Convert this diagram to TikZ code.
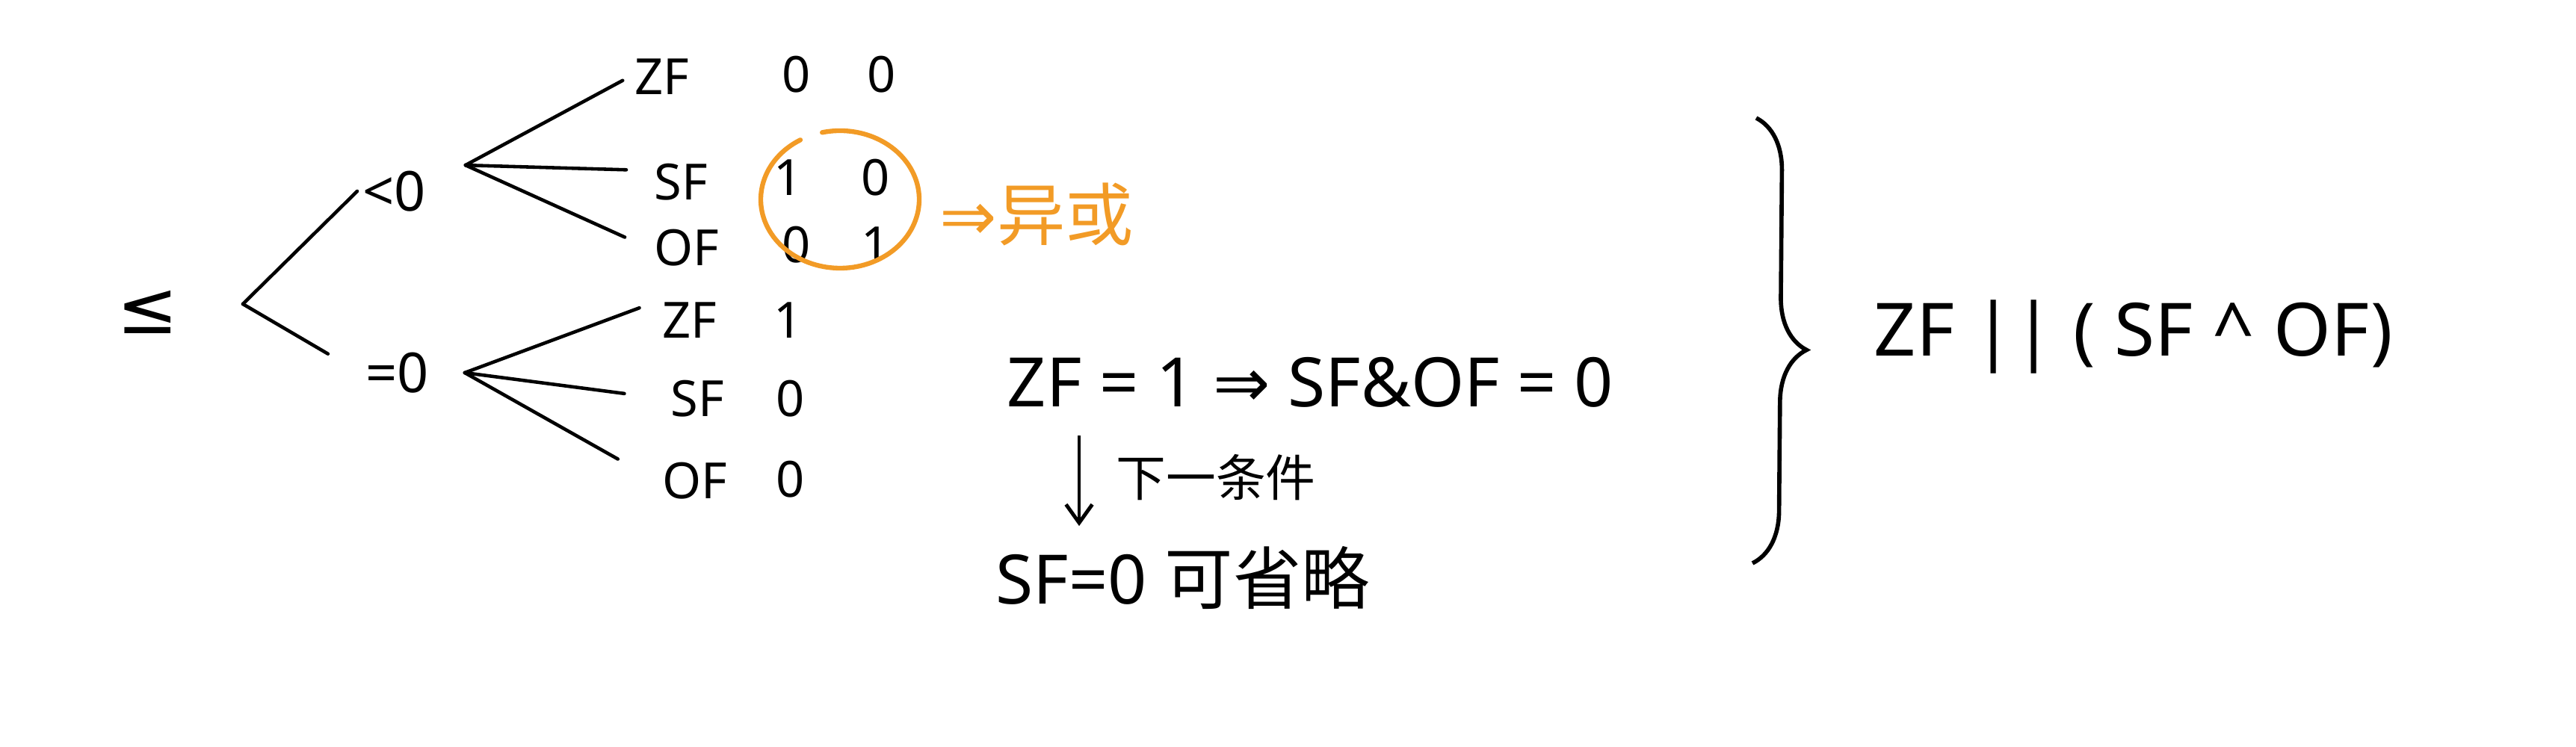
\documentclass[tikz,border=0pt]{standalone}
\usepackage{fontspec}
\setmainfont{Noto Sans}
\newfontfamily\cjk{Noto Sans CJK SC}
\newfontfamily\sym{DejaVu Sans}
\usepackage{tikz}
\usetikzlibrary{arrows.meta,calc,positioning,decorations.pathreplacing}
\usepackage{xcolor}
\definecolor{marker}{HTML}{F29B26}

\begin{document}
\begin{tikzpicture}[
  every node/.style={inner sep=2pt,font=\fontsize{19}{23}\selectfont},
  branch/.style={-,line width=1.3pt,line cap=round},
  edge/.style={-{Straight Barb[length=7pt,width=10pt]},line width=1.4pt},
  big/.style={font=\fontsize{26}{30}\selectfont},
  expr/.style={font=\fontsize{28}{34}\selectfont},
  hl/.style={draw=marker,line width=1.8pt,line cap=round}
]
\useasboundingbox (0,0) rectangle (34.47,10);
% Root and first split
\node[font=\fontsize{28}{32}\selectfont] (le) at (1.98,5.82) {\sym ≤};
\coordinate (fork) at (3.25,5.93);
\node[anchor=west,font=\fontsize{21}{25}\selectfont] (lt) at (4.78,7.44) {<0};
\node[anchor=west,font=\fontsize{21}{25}\selectfont] (eq) at (4.82,5.01) {=0};
\draw[branch] (fork) -- (lt.west);
\draw[branch,shorten >=0.5cm] (fork) -- (eq.west);
% Flags when result < 0
\coordinate[right=0.45cm of lt.north east] (ltk);
\node[anchor=west] (uz) at (8.42,8.97) {ZF};
\node[anchor=west] (us) at (8.68,7.56) {SF};
\node[anchor=west] (uo) at (8.68,6.68) {OF};
\node (uz1) at (10.66,9.00) {0};
\node (uz2) at (11.80,9.00) {0};
\node (us1) at (10.55,7.62) {1};
\node (us2) at (11.72,7.62) {0};
\node (uo1) at (10.66,6.72) {0};
\node (uo2) at (11.72,6.72) {1};
\draw[branch,shorten >=0.1cm] (ltk) -- (uz.west);
\draw[branch,shorten >=0.3cm] (ltk) -- (us.160);
\draw[branch,shorten >=0.35cm] (ltk) -- (uo.west);
% Flags when result = 0
\coordinate[right=0.4cm of eq.east] (eqk);
\node[anchor=west] (lz) at (8.79,5.71) {ZF};
\node[anchor=west] (ls) at (8.90,4.66) {SF};
\node[anchor=west] (lo) at (8.79,3.56) {OF};
\node (lz1) at (10.55,5.71) {1};
\node (ls1) at (10.58,4.66) {0};
\node (lo1) at (10.58,3.58) {0};
\draw[branch,shorten >=0.25cm] (eqk) -- (lz.150);
\draw[branch,shorten >=0.55cm] (eqk) -- (ls.west);
\draw[branch,shorten >=0.6cm] (eqk) -- (lo.west);
% SF/OF differ: xor
\draw[hl] ([shift={(120:1.06 and 0.92)}]11.24,7.33) arc[start angle=120,end angle=463,x radius=1.06,y radius=0.92];
\node[anchor=west,text=marker,font=\fontsize{26}{30}\selectfont] (xor) at (12.50,7.13) {{\sym ⇒}{\cjk 异或}};
% ZF = 1 case
\node[anchor=west,big] (impl) at (13.40,4.88) {ZF = 1 {\sym ⇒} SF\&OF = 0};
\node[anchor=west,big] (omit) at (13.25,2.26) {SF=0 {\cjk 可省略}};
\coordinate (down) at (14.44,0);
\draw[edge,shorten <=0.3cm,shorten >=0.2cm] (impl.south -| down) -- (omit.north -| down)
  node[midway,right=0.4cm] (cond) {\cjk 下一条件};
% Result
\coordinate (btop) at (23.50,8.42);
\coordinate (bbot) at (23.45,2.46);
\draw[line width=1.6pt,decorate,decoration={brace,amplitude=0.7cm,aspect=0.52}] (btop) -- (bbot);
\node[anchor=west,expr] (res) at (25.00,5.49) {ZF || ( SF \textasciicircum{} OF)};
\end{tikzpicture}
\end{document}
